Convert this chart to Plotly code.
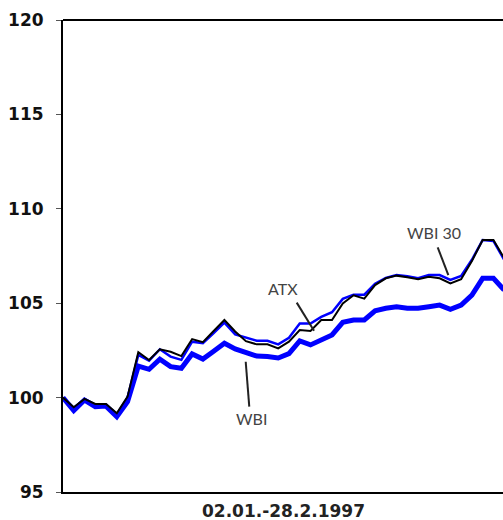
import plotly.graph_objects as go

day = list(range(42))

atx = [100.0, 99.49, 99.93, 99.66, 99.66, 99.17, 100.05, 102.40, 101.99, 102.56,
       102.43, 102.20, 103.10, 102.94, 103.53, 104.11, 103.50, 102.99, 102.82, 102.82,
       102.61, 102.96, 103.58, 103.53, 104.11, 104.11, 104.99, 105.42, 105.24, 105.96,
       106.32, 106.46, 106.37, 106.27, 106.40, 106.32, 106.05, 106.27, 107.24, 108.35,
       108.35, 107.39]

wbi30 = [100.0, 99.45, 99.93, 99.62, 99.62, 99.12, 100.0, 102.26, 101.95, 102.56,
         102.17, 102.0, 102.96, 102.88, 103.42, 103.97, 103.35, 103.17, 103.01, 103.01,
         102.82, 103.17, 103.92, 103.92, 104.27, 104.52, 105.23, 105.45, 105.45, 106.03,
         106.34, 106.49, 106.43, 106.32, 106.49, 106.49, 106.23, 106.44, 107.3, 108.35,
         108.3, 107.3]

wbi = [100.0, 99.31, 99.87, 99.52, 99.55, 98.99, 99.78, 101.67, 101.50, 102.03,
       101.64, 101.55, 102.31, 102.04, 102.46, 102.88, 102.58, 102.37, 102.20, 102.18,
       102.10, 102.33, 103.0, 102.79, 103.09, 103.32, 103.99, 104.11, 104.11, 104.60,
       104.73, 104.81, 104.73, 104.73, 104.81, 104.90, 104.68, 104.90, 105.43, 106.32,
       106.32, 105.70]

y_ticks = [95, 100, 105, 110, 115, 120]
x_title = "02.01.-28.2.1997"

fig = go.Figure()
fig.add_trace(go.Scatter(x=day, y=wbi, mode="lines", name="WBI",
                         line=dict(color="#0000ff", width=5)))
fig.add_trace(go.Scatter(x=day, y=wbi30, mode="lines", name="WBI 30",
                         line=dict(color="#0000ff", width=2.5)))
fig.add_trace(go.Scatter(x=day, y=atx, mode="lines", name="ATX",
                         line=dict(color="#000000", width=2)))

label_font = dict(family="Lato", size=16, color="#444444")
callouts = [
    ("WBI 30", 34.51, 108.73, (34.82, 107.96, 35.81, 106.49)),
    ("ATX", 20.47, 105.79, (21.72, 105.03, 23.33, 103.54)),
    ("WBI", 17.54, 98.90, (16.98, 101.90, 17.31, 99.52)),
]
for text, tx, ty, (x0, y0, x1, y1) in callouts:
    fig.add_annotation(x=tx, y=ty, text=text, showarrow=False, font=label_font,
                       xref="x", yref="y")
    fig.add_shape(type="line", x0=x0, y0=y0, x1=x1, y1=y1, xref="x", yref="y",
                  line=dict(color="#222222", width=2))

# top frame line of the plot area
fig.add_shape(type="line", x0=0, x1=1, y0=1, y1=1, xref="paper", yref="paper",
              line=dict(color="black", width=2))

fig.add_annotation(x=0.5, y=0, xref="paper", yref="paper", text="<b>" + x_title + "</b>",
                   showarrow=False, yanchor="top", yshift=-7,
                   font=dict(family="DejaVu Sans", size=17, color="#222222"))

fig.update_layout(
    width=503, height=520,
    margin=dict(l=63, r=0, t=20, b=28),
    paper_bgcolor="white", plot_bgcolor="white",
    showlegend=False,
    xaxis=dict(range=[0, 40.89], showgrid=False, zeroline=False, showticklabels=False,
               ticks="", showline=True, linecolor="black", linewidth=2, mirror=False),
    yaxis=dict(range=[95, 120], tickvals=y_ticks, showgrid=False, zeroline=False,
               ticks="outside", ticklen=5, tickcolor="#555555", tickwidth=1,
               showline=True, linecolor="black", linewidth=2, mirror=False,
               ticklabelstandoff=9,
               tickfont=dict(family="DejaVu Sans", size=17, color="#111111", weight="bold")),
)

fig.write_html("out.html", config={"displayModeBar": False},
               post_script="document.body.style.margin='0';document.body.style.overflow='hidden';")
